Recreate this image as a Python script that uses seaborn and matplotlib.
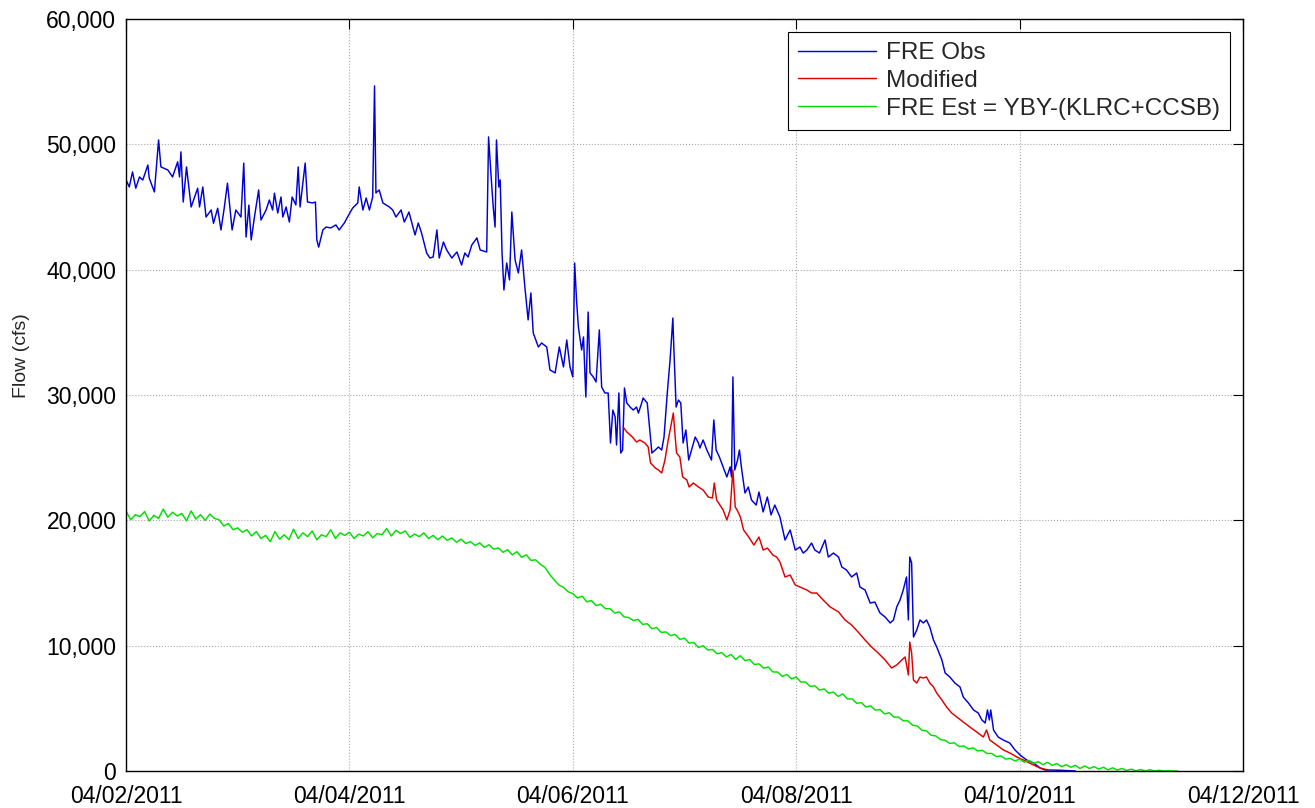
import numpy as np
import pandas as pd
import matplotlib
matplotlib.use('Agg')
import matplotlib.pyplot as plt
import matplotlib.dates as mdates
from matplotlib.ticker import FuncFormatter
import seaborn as sns

START = pd.Timestamp('2011-04-02')
END = pd.Timestamp('2011-04-12')

series_names = ['FRE Obs', 'Modified', 'FRE Est = YBY-(KLRC+CCSB)']
series_colors = ['#0000d8', '#e00000', '#00e000']
tick_dates = ['2011-04-02', '2011-04-04', '2011-04-06', '2011-04-08', '2011-04-10', '2011-04-12']
y_ticks = [0, 10000, 20000, 30000, 40000, 50000, 60000]

# FRE Obs (hours since 04/02/2011 00:00, flow in cfs)
blue_h = [0.0, 0.7, 1.4, 2.1, 2.9, 3.6, 4.7, 5.0, 6.1, 7.0,
          7.5, 9.0, 10.0, 11.1, 11.5, 11.8, 12.3, 13.0, 14.0, 15.4,
          15.8, 16.5, 17.2, 18.3, 18.8, 19.7, 20.4, 21.1, 21.8, 22.8,
          23.6, 24.7, 25.3, 25.8, 26.4, 26.9, 27.6, 28.5, 29.0, 30.1,
          30.8, 31.5, 31.9, 32.6, 33.3, 33.7, 34.4, 35.1, 35.7, 36.5,
          37.0, 37.4, 38.0, 38.5, 39.0, 40.1, 40.7, 41.0, 41.4, 42.3,
          43.0, 44.0, 45.1, 45.8, 46.9, 47.6, 48.7, 49.8, 50.1, 50.9,
          51.6, 52.3, 53.0, 53.4, 53.7, 54.4, 55.2, 56.6, 57.3, 58.0,
          59.1, 59.8, 60.8, 62.1, 62.8, 63.5, 64.6, 65.3, 66.0, 66.8,
          67.3, 68.2, 68.9, 70.0, 71.1, 72.1, 72.8, 73.5, 74.3, 75.4,
          76.1, 77.5, 77.9, 78.4, 78.9, 79.3, 79.6, 80.1, 80.4, 80.8,
          81.2, 81.8, 82.4, 82.9, 83.6, 84.3, 85.0, 85.7, 86.4, 87.0,
          87.5, 88.6, 89.3, 90.4, 91.1, 92.2, 93.1, 94.0, 94.7, 95.4,
          96.0, 96.4, 96.8, 97.2, 97.9, 98.3, 98.8, 99.3, 99.7, 100.4,
          101.0, 101.7, 102.2, 102.9, 103.6, 104.1, 104.6, 105.1, 105.4, 105.9,
          106.3, 106.7, 107.1, 107.6, 108.3, 109.0, 109.7, 110.1, 110.8, 111.1,
          112.0, 112.4, 113.0, 113.7, 114.4, 115.1, 115.6, 116.3, 116.9, 117.5,
          117.7, 118.2, 118.7, 119.2, 119.7, 120.3, 120.9, 121.5, 122.3, 123.0,
          123.3, 124.0, 124.8, 125.8, 126.3, 126.8, 127.5, 128.3, 129.1, 129.8,
          130.1, 130.4, 130.8, 131.4, 131.8, 132.3, 133.0, 133.7, 134.4, 135.4,
          136.0, 136.9, 137.8, 138.6, 139.4, 140.5, 141.6, 142.7, 143.8, 144.8,
          145.5, 146.3, 147.3, 148.0, 149.0, 150.2, 150.9, 152.0, 153.1, 153.8,
          154.8, 155.9, 157.0, 157.7, 158.8, 159.9, 160.9, 162.0, 163.1, 164.2,
          164.9, 165.6, 166.3, 167.0, 167.7, 168.1, 168.4, 168.8, 169.2, 169.9,
          170.6, 171.3, 172.0, 172.7, 173.5, 174.2, 175.3, 176.0, 177.0, 178.1,
          179.2, 179.9, 181.0, 182.1, 183.1, 183.9, 184.6, 185.1, 185.5, 185.8,
          186.4, 187.4, 188.5, 189.9, 191.0, 192.1, 193.5, 195.0, 196.4, 197.5,
          200.7, 204.0]
blue_v = [47160, 46600, 47800, 46500, 47400, 47150, 48350, 47300, 46200, 50350,
          48200, 47950, 47400, 48600, 47400, 49400, 45400, 48200, 45000, 46500,
          45000, 46600, 44200, 44760, 43700, 44900, 43170, 44900, 46900, 43170,
          44760, 44200, 48500, 42600, 45150, 42370, 44200, 46360, 43960, 44760,
          45560, 44760, 46100, 44520, 45800, 44200, 45000, 43800, 45800, 45160,
          48200, 45000, 46900, 48500, 45400, 45320, 45400, 42370, 41800, 43170,
          43400, 43330, 43570, 43170, 43720, 44200, 44920, 45320, 46600, 44760,
          45720, 44760, 45800, 54660, 46120, 46360, 45320, 45000, 44760, 44200,
          44760, 43800, 44600, 42770, 43720, 42930, 41330, 40930, 41010, 43170,
          40930, 42210, 41570, 40930, 41410, 40370, 41330, 41010, 41970, 42530,
          41570, 41410, 50590, 47720, 45000, 43400, 50350, 46600, 47160, 41330,
          38380, 40530, 39180, 44600, 40770, 39740, 41570, 38620, 35990, 38140,
          34950, 33830, 34150, 33830, 32000, 31760, 33830, 32240, 34390, 32240,
          31440, 40530, 37580, 35430, 33590, 34630, 29840, 36620, 31760, 31440,
          31040, 35190, 30640, 30160, 30160, 26170, 28800, 28250, 26010, 30160,
          25370, 25610, 30560, 29360, 29040, 28800, 29040, 28560, 29360, 29760,
          29360, 27770, 25370, 25610, 25850, 25610, 26650, 30160, 32790, 36140,
          33830, 29040, 29600, 29360, 26170, 27210, 24810, 25610, 26650, 26170,
          25770, 26410, 25610, 24810, 28010, 25610, 25050, 24260, 23460, 24260,
          23460, 31440, 24020, 24810, 25610, 24020, 22180, 22660, 21620, 21220,
          22260, 20670, 21860, 20430, 21220, 20270, 18430, 19230, 17630, 17870,
          17390, 17630, 18190, 17630, 17390, 18430, 17070, 17390, 17070, 16280,
          16040, 15480, 15800, 14680, 14440, 13400, 13480, 12610, 12290, 11810,
          12050, 13090, 13640, 14440, 15480, 12050, 17070, 16600, 10690, 11250,
          12050, 11810, 12050, 11490, 10450, 9890, 8860, 7820, 7500, 7020,
          6700, 5900, 5430, 4870, 4630, 4070, 3830, 4870, 4070, 4870,
          3270, 2710, 2470, 2230, 1680, 1280, 880, 640, 240, 80,
          60, 0]

# Modified
red_h = [106.8, 107.6, 108.8, 109.7, 110.4, 111.5, 112.2, 112.7, 113.7, 114.4,
         115.1, 115.8, 116.5, 117.2, 117.6, 118.0, 118.3, 119.0, 119.6, 120.5,
         121.0, 121.9, 123.0, 124.0, 125.1, 126.0, 126.4, 126.9, 128.3, 129.1,
         129.8, 130.4, 130.9, 131.3, 132.0, 132.7, 133.8, 134.9, 136.0, 136.9,
         137.8, 139.0, 139.8, 140.5, 141.6, 142.7, 143.8, 144.8, 146.3, 147.3,
         148.4, 149.8, 151.3, 153.1, 154.5, 155.9, 157.3, 158.8, 160.2, 161.6,
         163.1, 164.5, 165.6, 166.7, 167.4, 168.1, 168.4, 168.8, 169.2, 169.9,
         170.6, 171.3, 172.0, 172.7, 173.5, 174.2, 175.3, 176.3, 177.4, 178.5,
         179.9, 181.3, 182.8, 184.2, 184.9, 185.6, 187.1, 188.5, 189.9, 191.4,
         192.8, 195.0, 196.4, 198.1]
red_v = [27450, 27050, 26650, 26250, 26410, 26170, 25850, 24580, 24180, 24020,
         23780, 24810, 26410, 27770, 28560, 26650, 25370, 25050, 23460, 23220,
         22660, 22980, 22660, 22420, 21860, 21780, 22980, 21620, 20830, 20030,
         20830, 24020, 21060, 20830, 20270, 19230, 18670, 18030, 18670, 17630,
         17790, 17230, 17070, 16680, 15480, 15640, 14840, 14680, 14440, 14200,
         14200, 13640, 13090, 12690, 12050, 11650, 11090, 10450, 9890, 9420,
         8860, 8220, 8460, 8860, 9100, 7660, 10290, 9420, 7260, 7020,
         7500, 7420, 7500, 7020, 6700, 6220, 5670, 5110, 4630, 4310,
         3910, 3510, 3110, 2710, 3270, 2470, 2070, 1680, 1440, 1120,
         880, 480, 240, 80]

# FRE Est = YBY-(KLRC+CCSB), hourly
green_h = list(range(0, 227))
green_v = [20750, 20050, 20450, 20300, 20700, 19950, 20400, 20150, 20900, 20250,
           20650, 20350, 20550, 19950, 20750, 20100, 20450, 20000, 20500, 20150,
           20050, 19550, 19750, 19250, 19400, 19050, 19250, 18750, 19100, 18550,
           18800, 18300, 19100, 18500, 18850, 18450, 19300, 18550, 19000, 18700,
           19150, 18450, 18850, 18700, 19250, 18550, 19000, 18800, 19050, 18550,
           18900, 18750, 19100, 18600, 18950, 18850, 19350, 18750, 19200, 18950,
           19150, 18650, 18900, 18700, 19000, 18550, 18800, 18450, 18750, 18400,
           18600, 18250, 18500, 18150, 18300, 18000, 18200, 17850, 18050, 17700,
           17800, 17450, 17650, 17250, 17500, 17050, 17250, 16800, 16850, 16500,
           16250, 15700, 15250, 14850, 14650, 14300, 14150, 13800, 13950, 13500,
           13600, 13200, 13300, 12950, 12950, 12600, 12700, 12300, 12250, 12000,
           12100, 11700, 11750, 11350, 11450, 11050, 11100, 10800, 10900, 10500,
           10600, 10200, 10250, 9850, 10000, 9650, 9700, 9350, 9450, 9100,
           9300, 8900, 9200, 8800, 8900, 8500, 8550, 8200, 8300, 7900,
           7900, 7550, 7700, 7350, 7500, 7100, 7100, 6750, 6800, 6450,
           6550, 6200, 6300, 5950, 6150, 5750, 5750, 5400, 5450, 5100,
           5200, 4850, 4900, 4550, 4650, 4300, 4300, 4000, 4000, 3650,
           3600, 3250, 3200, 2850, 2800, 2500, 2450, 2200, 2250, 1950,
           2000, 1750, 1850, 1600, 1650, 1400, 1400, 1150, 1200, 950,
           1000, 800, 950, 700, 850, 600, 750, 500, 700, 450,
           600, 350, 500, 300, 450, 200, 400, 200, 350, 150,
           300, 100, 250, 80, 200, 40, 150, 20, 120, 0,
           100, 0, 60, 0, 30, 0, 0]

assert len(blue_h) == len(blue_v)
assert len(red_h) == len(red_v)
assert len(green_h) == len(green_v)


def frame(hours, values, name):
    return pd.DataFrame({
        'time': START + pd.to_timedelta(np.asarray(hours, dtype=float), unit='h'),
        'flow': values,
        'series': name,
    })


df = pd.concat([frame(blue_h, blue_v, series_names[0]),
                frame(red_h, red_v, series_names[1]),
                frame(green_h, green_v, series_names[2])], ignore_index=True)

sns.set_style('white')
plt.rcParams['font.family'] = ['Liberation Sans', 'DejaVu Sans']

fig = plt.figure(figsize=(13.15, 8.08), dpi=100)
ax = fig.add_axes([126 / 1315, 1 - 771 / 808, (1243 - 126) / 1315, (771 - 19) / 808])

sns.lineplot(data=df, x='time', y='flow', hue='series', hue_order=series_names,
             palette=dict(zip(series_names, series_colors)), estimator=None,
             sort=False, linewidth=1.05, legend=False, ax=ax)

ax.set_xlim(START, END)
ax.set_ylim(0, 60000)
ax.set_xticks(pd.to_datetime(tick_dates))
ax.xaxis.set_major_formatter(mdates.DateFormatter('%m/%d/%Y'))
ax.set_yticks(y_ticks)
ax.yaxis.set_major_formatter(FuncFormatter(lambda v, p: f'{int(v):,}'))

ax.grid(True, linestyle=':', color='#a8a8a8', linewidth=0.8)
ax.tick_params(direction='in', length=7, width=0.8, top=True, right=True,
               labelsize=16.5, colors='black')
ax.tick_params(axis='x', pad=10)
ax.tick_params(axis='y', pad=7)
for s in ax.spines.values():
    s.set_color('black')
    s.set_linewidth(1.0)

ax.set_xlabel('')
ax.set_ylabel('Flow (cfs)', fontsize=14)
ax.yaxis.set_label_coords(-0.086, 0.553)

lines = ax.get_lines()[:3]
leg = ax.legend(handles=lines, labels=series_names, loc='upper right', fontsize=17.5,
                frameon=True, fancybox=False, edgecolor='black', framealpha=1,
                handlelength=3.2, borderaxespad=0.55, labelspacing=0.24,
                borderpad=0.4, handletextpad=0.42)
leg.get_frame().set_linewidth(0.8)

fig.savefig('out.png', dpi=100)
